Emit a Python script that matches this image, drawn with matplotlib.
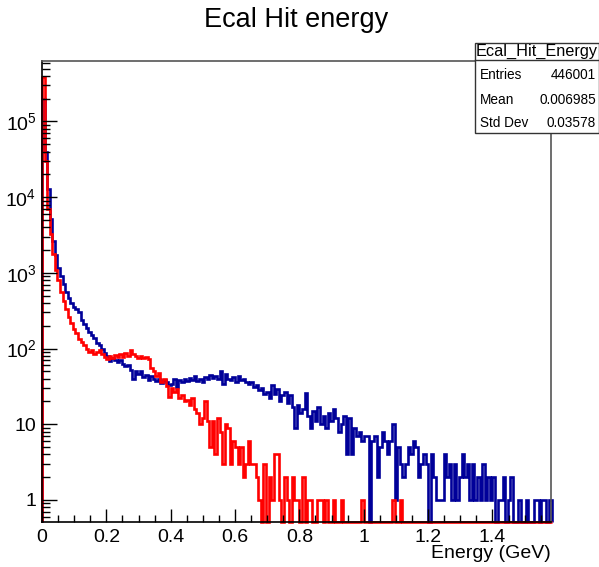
import numpy as np
import matplotlib
matplotlib.use("Agg")
import matplotlib.pyplot as plt
from matplotlib.patches import Rectangle
from matplotlib.ticker import LogLocator, MultipleLocator, FuncFormatter, NullFormatter

plt.rcParams.update({
    "font.family": ["Liberation Sans", "DejaVu Sans"],
    "mathtext.fontset": "custom",
    "mathtext.rm": "Liberation Sans",
    "mathtext.it": "Liberation Sans:italic",
})

TITLE = "Ecal Hit energy"
XLABEL = "Energy (GeV)"
BIN_WIDTH = 0.008

# bin contents, bin i covers [i*BIN_WIDTH, (i+1)*BIN_WIDTH)
blue_counts = [
    200000, 40000, 13000, 5200, 2600, 1700, 1150, 900, 720, 560,
    470, 400, 350, 330, 300, 240, 210, 185, 165, 150,
    138, 120, 112, 100, 88, 80, 68, 74, 70, 66,
    70, 62, 58, 60, 52, 40, 50, 46, 50, 42,
    45, 38, 44, 40, 37, 39, 35, 38, 36, 33,
    34, 40, 31, 38, 36, 39, 37, 41, 38, 43,
    37, 40, 36, 42, 40, 45, 41, 44, 39, 50,
    34, 46, 40, 38, 42, 36, 44, 38, 40, 36,
    34, 36, 31, 33, 28, 30, 25, 27, 22, 33,
    25, 29, 20, 24, 27, 19, 24, 17, 9, 18,
    14, 16, 26, 13, 9, 15, 11, 17, 10, 13,
    9, 14, 11, 16, 12, 8, 10, 13, 4, 12,
    4, 9, 7, 8, 6, 7, 7, 0, 6, 7,
    2, 5, 8, 6, 4, 6, 10, 1, 5, 3,
    2, 3, 5, 4, 6, 5, 2, 3, 4, 3,
    0, 4, 2, 1, 1, 1, 4, 2, 3, 1,
    3, 1, 2, 4, 2, 3, 1, 3, 1, 2,
    1, 3, 1, 2, 1, 2, 0, 1, 1, 2,
    0, 1, 2, 0, 0, 1, 0, 0, 1, 0,
    0, 1, 1, 0, 1, 1, 0, 1,
]

red_counts = [
    390000, 30000, 7000, 3300, 1800, 1100, 800, 560, 430, 330,
    260, 215, 180, 160, 135, 122, 110, 100, 90, 95,
    84, 90, 96, 85, 78, 72, 80, 76, 82, 78,
    84, 78, 86, 80, 97, 84, 80, 76, 80, 74,
    78, 72, 55, 50, 44, 47, 36, 40, 32, 23,
    30, 27, 29, 22, 24, 20, 21, 18, 22, 16,
    14, 10, 12, 20, 11, 5, 11, 4, 12, 8,
    3, 10, 9, 3, 6, 5, 3, 5, 2, 3,
    6, 3, 3, 2, 1, 0, 3, 0, 2, 1,
    4, 4, 1, 0, 2, 1, 0, 2, 1, 1,
    0, 2, 0, 1, 1, 0, 0, 1, 1, 0,
    1, 0, 0, 1, 0, 0, 1, 0, 0, 0,
    0, 0, 0, 0, 1, 0, 0, 0, 0, 0,
    0, 0, 0, 0, 0, 0, 1, 0, 0, 1,
    0, 0, 0, 0, 0, 0, 0, 0, 0, 0,
    0, 0, 0, 0, 0, 0, 0, 0, 0, 0,
    0, 0, 0, 0, 0, 0, 0, 0, 0, 0,
    0, 0, 0, 0, 0, 0, 0, 0, 0, 0,
    0, 0, 0, 0, 0, 0, 0, 0, 0, 0,
    0, 0, 0, 0, 0, 0, 0, 0,
]

stats_name = "Ecal_Hit_Energy"
stats_rows = [("Entries", "446001"), ("Mean", "0.006985"), ("Std Dev", "0.03578")]

X_MAX = 1.582
Y_MIN, Y_MAX = 0.51, 6.3e5

fig = plt.figure(figsize=(5.99, 5.67), dpi=100)
ax = fig.add_axes([42/599, 1 - 522/567, (551 - 42)/599, (522 - 61)/567])

def draw_hist(counts, color):
    vals = np.asarray(counts, dtype=float)
    vals = np.where(vals > 0, vals, Y_MIN)
    edges = np.arange(len(vals) + 1) * BIN_WIDTH
    ax.stairs(vals, edges, baseline=Y_MIN, color=color, lw=1.9, clip_on=False)

draw_hist(blue_counts, "#000099")
draw_hist(red_counts, "#ff0000")

ax.set_yscale("log")
ax.set_xlim(0, X_MAX)
ax.set_ylim(Y_MIN, Y_MAX)

ax.xaxis.set_major_locator(MultipleLocator(0.2))
ax.xaxis.set_minor_locator(MultipleLocator(0.05))
ax.xaxis.set_major_formatter(FuncFormatter(lambda v, p: f"{v:g}"))
ax.yaxis.set_major_locator(LogLocator(base=10, numticks=10))
ax.yaxis.set_minor_locator(LogLocator(base=10, subs=np.arange(2, 10), numticks=20))
ax.yaxis.set_minor_formatter(NullFormatter())
ax.xaxis.label.set_visible(False)
ax.yaxis.label.set_visible(False)

def ylab(v, p):
    e = int(round(np.log10(v)))
    if e == 0:
        return "1"
    if e == 1:
        return "10"
    return r"$\mathregular{10^{%d}}$" % e

ax.yaxis.set_major_formatter(FuncFormatter(ylab))
ax.tick_params(axis="both", which="both", direction="in", top=False, right=False,
               labelsize=14, width=1.0, color="black")
ax.tick_params(axis="y", which="major", length=11, pad=4)
ax.tick_params(axis="y", which="minor", length=5.5)
ax.tick_params(axis="x", which="major", length=9.5, pad=5)
ax.tick_params(axis="x", which="minor", length=5)

for side in ["left", "bottom"]:
    ax.spines[side].set_color("black")
    ax.spines[side].set_linewidth(1.2)
for side in ["top", "right"]:
    ax.spines[side].set_color("#555555")
    ax.spines[side].set_linewidth(1.2)

fig.text(296.5/599, 1 - 20/567, TITLE, ha="center", va="center", fontsize=19.5)
fig.text(551/599, 1 - 553/567, XLABEL, ha="right", va="center", fontsize=14)

# stats box
bx0, by0, bx1, by1 = 475/599, 1 - 132.5/567, 598.5/599, 1 - 42.5/567
fig.patches.append(Rectangle((bx0, by0), bx1 - bx0, by1 - by0, transform=fig.transFigure,
                             facecolor="white", edgecolor="#333333", lw=1.0, zorder=5))
hy = 1 - 59.5/567
fig.lines.append(plt.Line2D([bx0, bx1], [hy, hy], transform=fig.transFigure,
                            color="#333333", lw=1.0, zorder=6))
fig.text((bx0 + bx1) / 2, 1 - 51.5/567, stats_name, ha="center", va="center",
         fontsize=11.7, zorder=7)
row_y = [75, 99.5, 123]
for (k, v), yy in zip(stats_rows, row_y):
    fig.text(480/599, 1 - yy/567, k, ha="left", va="center", fontsize=9.8, zorder=7)
    fig.text(596/599, 1 - yy/567, v, ha="right", va="center", fontsize=9.8, zorder=7)

fig.savefig("out.png", dpi=100)
